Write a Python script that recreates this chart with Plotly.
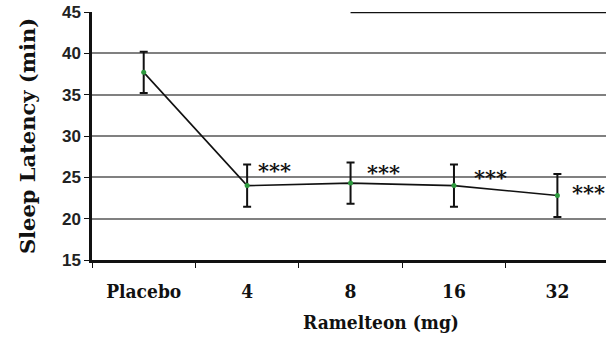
import plotly.graph_objects as go

# Sleep latency by ramelteon dose
categories = ["Placebo", "4", "8", "16", "32"]
latency_min = [37.7, 24.0, 24.3, 24.0, 22.8]
latency_err = [2.5, 2.55, 2.5, 2.55, 2.6]
sig_labels = ["", "***", "***", "***", "***"]

y_ticks = [15, 20, 25, 30, 35, 40, 45]

# label offsets (px) for the significance markers
sig_xshift = [0, 9, 14, 18, 13]
sig_yshift = [0, 15, 11, 8, 3]

serif = "DejaVu Serif"
serif_cond = "DejaVu Serif Condensed"
sans = "Liberation Sans"

fig = go.Figure()
fig.add_trace(go.Scatter(
    x=categories,
    y=latency_min,
    mode="lines+markers",
    line=dict(color="#111111", width=1.6),
    marker=dict(color="#2e9a3e", size=5),
    error_y=dict(type="data", array=latency_err, visible=True,
                 color="#111111", thickness=2, width=4),
    showlegend=False,
))

# category axis: annotations are placed by category index
for i, (v, s) in enumerate(zip(latency_min, sig_labels)):
    if not s:
        continue
    fig.add_annotation(
        x=i, y=v, text=s, showarrow=False,
        xanchor="left", yanchor="middle",
        xshift=sig_xshift[i], yshift=sig_yshift[i],
        font=dict(family=serif, size=21, color="#111111", weight="bold"),
    )

# x-axis title, set a little right of the plot centre
fig.add_annotation(
    xref="paper", yref="paper", x=0.562, y=0,
    yshift=-62, xanchor="center", yanchor="middle",
    text="Ramelteon (mg)", showarrow=False,
    font=dict(family=serif_cond, size=19, color="#111111", weight="bold"),
)

# dark stretch of the top border
fig.add_shape(type="line", xref="x", yref="y",
              x0=2, x1=4.5, y0=45, y1=45,
              line=dict(color="#111111", width=2.5))

fig.update_layout(
    width=606, height=337,
    margin=dict(l=92, r=0, t=12, b=77),
    plot_bgcolor="white", paper_bgcolor="white",
    xaxis=dict(
        type="category",
        range=[-0.5, 4.47],
        tickson="boundaries",
        ticks="outside", ticklen=5, tickcolor="#111111", tickwidth=1,
        ticklabelstandoff=12,
        showgrid=False,
        showline=True, linecolor="#111111", linewidth=2.5,
        tickfont=dict(family=serif_cond, size=19, color="#111111", weight="bold"),
    ),
    yaxis=dict(
        range=[15, 45],
        tickvals=y_ticks,
        ticks="outside", ticklen=5, tickcolor="#111111", tickwidth=1,
        showgrid=True, gridcolor="#808080", gridwidth=1.8,
        showline=True, linecolor="#111111", linewidth=2.5,
        zeroline=False,
        tickfont=dict(family=sans, size=17, color="#222222", weight="bold"),
        title=dict(text="Sleep Latency (min)", standoff=21,
                   font=dict(family=serif, size=21, color="#111111", weight="bold")),
    ),
)

fig.write_html("out.html")
